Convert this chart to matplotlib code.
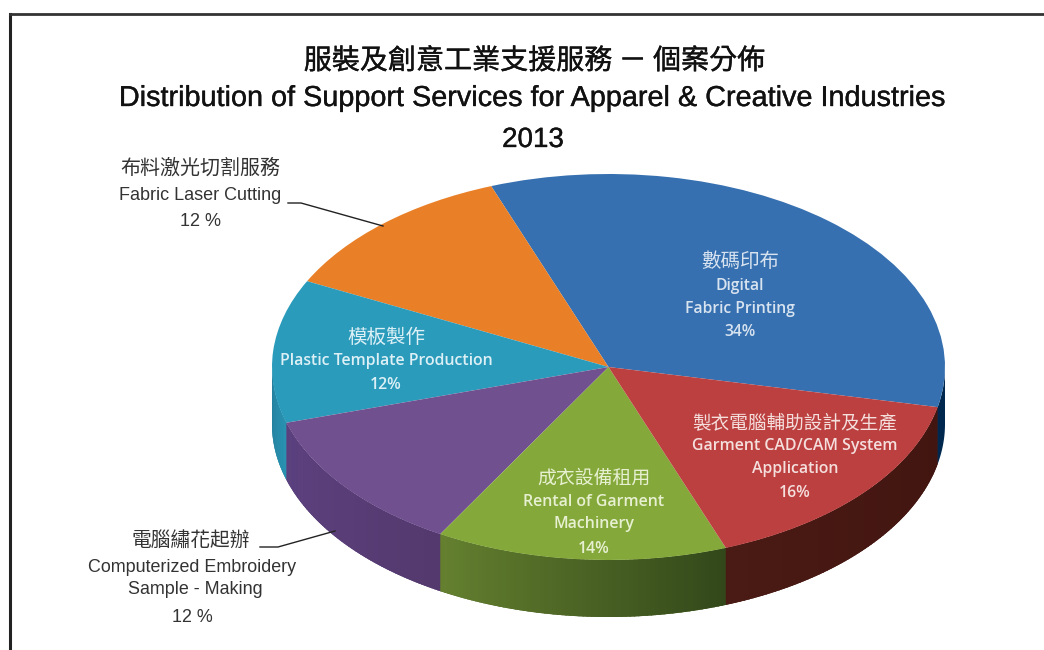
import numpy as np
import matplotlib
matplotlib.use("Agg")
import matplotlib.pyplot as plt
import matplotlib.patheffects as pe
from matplotlib.colors import to_rgb
from matplotlib.lines import Line2D

plt.rcParams['font.family'] = ['Liberation Sans', 'Noto Sans CJK TC']

# Support service share, percent, counter-clockwise from the right-hand edge
services_zh = ["數碼印布", "布料激光切割服務", "模板製作", "電腦繡花起辦", "成衣設備租用", "製衣電腦輔助設計及生產"]
services_en = ["Digital\nFabric Printing", "Fabric Laser Cutting", "Plastic Template Production",
               "Computerized Embroidery\nSample - Making", "Rental of Garment\nMachinery",
               "Garment CAD/CAM System\nApplication"]
shares = [34, 12, 12, 12, 14, 16]

top_colors = ["#3670B0", "#E98028", "#2B9BBB", "#70508F", "#84A93A", "#BC4040"]
wall_left = ["#0A3A66", "#9A5418", "#237F9C", "#5C4180", "#64802F", "#4A1A14"]
wall_right = ["#00284E", "#9A5418", "#2A93B2", "#54396E", "#33481A", "#421510"]
label_colors = ["#D8E3F0", "#333333", "#DCF0F6", "#333333", "#E8F0D2", "#F4DFDD"]

W, H = 1044, 650
fig = plt.figure(figsize=(W / 100, H / 100), dpi=100, facecolor="white")


def fx(x):
    return x / W


def fy(y):
    return 1 - y / H


# Pie axes: unit circle squashed into an ellipse, with room below for the wall
rim_left, rim_right, rim_top, rim_bottom, depth_px = 272, 945, 174, 560, 57
ry_px = (rim_bottom - rim_top) / 2
depth = depth_px / ry_px
ax = fig.add_axes([fx(rim_left), fy(rim_bottom + depth_px),
                   (rim_right - rim_left) / W, (rim_bottom + depth_px - rim_top) / H])
wedges, _ = ax.pie(shares, colors=top_colors, startangle=-12, counterclock=True,
                   wedgeprops=dict(linewidth=0, zorder=3))
ax.set_aspect("auto")
ax.set_xlim(-1, 1)
ax.set_ylim(-1 - depth, 1)
ax.axis("off")

# Side wall: a solid band per slice, with thin shaded strips laid over it
for wedge, c0, c1 in zip(wedges, wall_left, wall_right):
    lo, hi = wedge.theta1, wedge.theta2
    if hi <= 180 or lo >= 360:
        continue
    lo, hi = max(lo, 180), min(hi, 360)
    if lo < 0:
        continue
    theta = np.radians(np.linspace(lo, hi, 70))
    rgb0, rgb1 = np.array(to_rgb(c0)), np.array(to_rgb(c1))
    band_x = np.r_[np.cos(theta), np.cos(theta[::-1])]
    band_y = np.r_[np.sin(theta), np.sin(theta[::-1]) - depth]
    ax.fill(band_x, band_y, color=(rgb0 + rgb1) / 2, linewidth=0, zorder=1)
    for i in range(len(theta) - 1):
        f = i / (len(theta) - 2)
        a, b = theta[i], theta[i + 1] + 0.004
        xs = [np.cos(a), np.cos(b), np.cos(b), np.cos(a)]
        ys = [np.sin(a), np.sin(b), np.sin(b) - depth, np.sin(a) - depth]
        ax.fill(xs, ys, color=rgb0 + (rgb1 - rgb0) * f, linewidth=0, zorder=2)

# The blue slice starts below the horizon, so its short wall runs up to the right edge
blue = wedges[0]
theta = np.radians(np.linspace(blue.theta1, 0, 20))
ax.fill(np.r_[np.cos(theta), np.cos(theta[::-1])],
        np.r_[np.sin(theta), np.sin(theta[::-1]) - depth],
        color=wall_right[0], linewidth=0, zorder=2)

# Frame: only the top and left rules are present
fig.add_artist(Line2D([fx(10), fx(10)], [fy(14), 0], color="#222222", lw=2.2))
fig.add_artist(Line2D([fx(10), 1], [fy(14), fy(14)], color="#333333", lw=2.0))

# Heading, thickened slightly with a hairline stroke
zh_font = ['Noto Sans CJK TC', 'DejaVu Sans']
heavy = [pe.withStroke(linewidth=0.25, foreground="#111111")]
fig.text(fx(534), fy(61), "服裝及創意工業支援服務 － 個案分佈", family=zh_font, fontsize=20.2,
         ha="center", va="center", color="#111111", path_effects=heavy)
fig.text(fx(533), fy(98), "Distribution of Support Services for Apparel & Creative Industries",
         fontsize=20.75, ha="center", va="center", color="#111111", path_effects=heavy)
fig.text(fx(533), fy(140), "2013", fontsize=20, ha="center", va="center", color="#111111",
         path_effects=heavy)


def stack(cx, rows, color, en_family, en_size, zh_size, en_weight="normal"):
    """Draw a centred label block; each row is (text, y, is_chinese)."""
    for text, y, is_zh in rows:
        fig.text(fx(cx), fy(y), text, ha="center", va="center", color=color,
                 family=zh_font if is_zh else en_family,
                 fontsize=zh_size if is_zh else en_size,
                 weight="normal" if is_zh else en_weight)


body = ["Open Sans", "DejaVu Sans"]
pct = [f"{v}%" for v in shares]
pct_sp = [f"{v} %" for v in shares]
en = [s.split("\n") for s in services_en]

stack(740, [(services_zh[0], 261, True), (en[0][0], 286, False),
            (en[0][1], 309, False), (pct[0], 332, False)], label_colors[0], body, 11.3, 14, "semibold")
stack(386, [(services_zh[2], 337, True), (en[2][0], 361, False), (pct[2], 385, False)],
      label_colors[2], body, 11.4, 14, "semibold")
stack(594, [(services_zh[4], 478, True), (en[4][0], 502, False),
            (en[4][1], 524, False), (pct[4], 549, False)], label_colors[4], body, 11.4, 13.6, "semibold")
stack(795, [(services_zh[5], 423, True), (en[5][0], 446, False),
            (en[5][1], 469, False), (pct[5], 493, False)], label_colors[5], body, 11.4, 13.4, "semibold")

sans = ["Liberation Sans"]
stack(200, [(services_zh[1], 168, True), (en[1][0], 195, False), (pct_sp[1], 222, False)],
      label_colors[1], sans, 13, 14.4)
stack(191, [(services_zh[3], 541, True)], label_colors[3], sans, 13, 14.2)
stack(192, [(en[3][0], 568, False), (pct_sp[3], 617, False)], label_colors[3], sans, 12.9, 14.2)
stack(195, [(en[3][1], 590, False)], label_colors[3], sans, 12.9, 14.2)

# Leader lines for the two labels outside the pie
fig.add_artist(Line2D([fx(288), fx(301), fx(383)], [fy(203), fy(203), fy(226)], color="#222222", lw=1))
fig.add_artist(Line2D([fx(260), fx(278), fx(335)], [fy(547), fy(547), fy(531)], color="#222222", lw=1))

fig.savefig("out.png", dpi=100, facecolor="white")
